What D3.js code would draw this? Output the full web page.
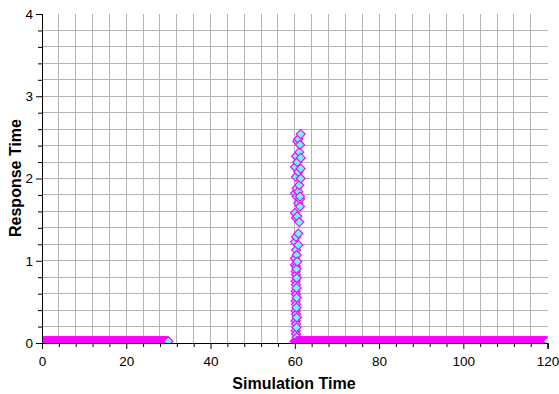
<!DOCTYPE html>
<html>
<head>
<meta charset="utf-8">
<script src="https://cdn.jsdelivr.net/npm/d3@7"></script>
<style>
  html, body { margin: 0; padding: 0; background: #fff; }
  svg { display: block; font-family: "Liberation Sans", Arial, sans-serif; }
</style>
</head>
<body>
<svg id="chart" width="559" height="394"></svg>
<script>
// Steady-state periods: requests answered almost immediately
const steadyRuns = [
  { from: 0,  to: 30,  value: 0.02 },
  { from: 60, to: 120, value: 0.02 }
];
const sampleInterval = 0.1;

// Burst around t = 60: response times climbing as the queue builds
const burstTimes = [
  60.3, 60.45, 60.3, 60.2, 60.4, 60.3, 60.2, 60.45, 60.3, 60.2,
  60.4, 60.3, 60.2, 60.45, 60.3, 60.2, 60.4, 60.3, 60.2, 60.45,
  60.3, 60.2, 60.4, 60.3,
  60.05, 60.6, 60.05, 60.45, 60.3, 60.84, 60.05, 60.3, 60.84, 61.07,
  60.3, 60.6, 60.05, 61.24, 60.84, 61.24, 60.45, 61.24, 60.05, 60.84,
  60.45, 61.07, 61.4, 60.29, 60.84, 61.4, 60.05, 60.6, 61.4, 60.3,
  61.07, 61.24, 60.6, 60.84, 61.4
];
const burstValues = [
  0.03, 0.07, 0.11, 0.15, 0.19, 0.23, 0.27, 0.31, 0.35, 0.39,
  0.43, 0.47, 0.51, 0.55, 0.59, 0.63, 0.67, 0.71, 0.75, 0.79,
  0.83, 0.87, 0.90, 0.93,
  0.95, 0.99, 1.03, 1.07, 1.13, 1.19, 1.23, 1.29, 1.33, 1.47,
  1.52, 1.54, 1.58, 1.66, 1.70, 1.75, 1.78, 1.78, 1.82, 1.84,
  1.88, 1.92, 2.00, 2.02, 2.08, 2.12, 2.14, 2.20, 2.25, 2.27,
  2.32, 2.41, 2.45, 2.48, 2.54
];

const xMajorTicks = [0, 20, 40, 60, 80, 100, 120];
const yMajorTicks = [0, 1, 2, 3, 4];
const xTitle = "Simulation Time";
const yTitle = "Response Time";

const svg = d3.select("#chart");
const plotLeft = 42, plotRight = 547.6, plotTop = 14, plotBottom = 343;

const x = d3.scaleLinear().domain([0, 120]).range([plotLeft, plotRight]);
const y = d3.scaleLinear().domain([0, 4]).range([plotBottom, plotTop]);

const xMinor = d3.range(0, 120.001, 4);
const yMinor = d3.range(0, 4.001, 0.2).map(v => +v.toFixed(1));

// grid
const grid = svg.append("g").attr("stroke", "#b4b4b4").attr("stroke-width", 1).attr("shape-rendering", "crispEdges");
grid.selectAll("line.v").data(xMinor.filter(v => v > 0 && v < 120)).join("line")
  .attr("x1", d => x(d)).attr("x2", d => x(d)).attr("y1", plotTop).attr("y2", plotBottom);
grid.selectAll("line.h").data(yMinor.filter(v => v > 0 && v < 4)).join("line")
  .attr("y1", d => y(d)).attr("y2", d => y(d)).attr("x1", plotLeft).attr("x2", plotRight);

// points
const points = [];
steadyRuns.forEach(r => {
  d3.range(r.from, r.to + 1e-9, sampleInterval).forEach(t => points.push([t, r.value]));
});
burstTimes.forEach((t, i) => points.push([t, burstValues[i]]));
points.sort((a, b) => a[0] - b[0]);

svg.append("clipPath").attr("id", "plotClip").append("rect")
  .attr("x", plotLeft).attr("y", plotTop).attr("width", plotRight - plotLeft).attr("height", plotBottom - plotTop);

const diamond = "M0,-4.5L4.5,0L0,4.5L-4.5,0Z";
svg.append("g").attr("clip-path", "url(#plotClip)")
  .selectAll("path").data(points).join("path")
  .attr("d", diamond)
  .attr("transform", d => `translate(${x(d[0])},${y(d[1])})`)
  .attr("fill", "#66ffff")
  .attr("stroke", "#ff00ff")
  .attr("stroke-width", 1.2);

// axes
const xAxisMinor = d3.axisBottom(x).tickValues(xMinor.filter(v => !xMajorTicks.includes(v))).tickSize(4).tickFormat("");
const xAxisMajor = d3.axisBottom(x).tickValues(xMajorTicks).tickSize(6).tickFormat(d3.format("d"));
const yAxisMinor = d3.axisLeft(y).tickValues(yMinor.filter(v => !yMajorTicks.includes(v))).tickSize(4).tickFormat("");
const yAxisMajor = d3.axisLeft(y).tickValues(yMajorTicks).tickSize(6).tickFormat(d3.format("d"));

function style(g) {
  g.selectAll("path.domain").attr("stroke", "#000");
  g.selectAll("line").attr("stroke", "#000");
  g.selectAll("text").attr("fill", "#000").attr("font-size", 13.5)
    .attr("font-family", "'Liberation Sans', Arial, sans-serif");
}
svg.append("g").attr("transform", `translate(0,${plotBottom})`).call(xAxisMinor).call(style);
svg.append("g").attr("transform", `translate(0,${plotBottom})`).call(xAxisMajor).call(style)
  .selectAll("text").attr("dy", "1.05em");
svg.append("g").attr("transform", `translate(${plotLeft},0)`).call(yAxisMinor).call(style);
svg.append("g").attr("transform", `translate(${plotLeft},0)`).call(yAxisMajor).call(style);

// titles
svg.append("text").attr("x", 294).attr("y", 389)
  .attr("text-anchor", "middle").attr("font-size", 16).attr("font-weight", "bold")
  .text(xTitle);
svg.append("text").attr("transform", `translate(21,178) rotate(-90)`)
  .attr("text-anchor", "middle").attr("font-size", 16).attr("font-weight", "bold")
  .text(yTitle);
</script>
</body>
</html>
